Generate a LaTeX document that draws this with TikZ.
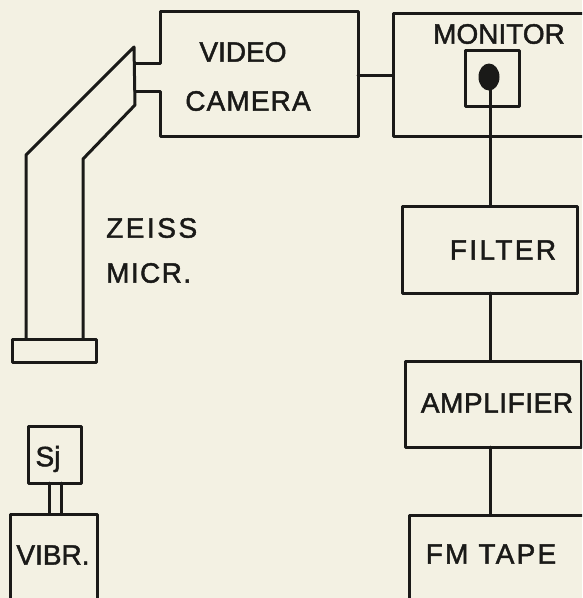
\documentclass[tikz,border=0pt]{standalone}
\usepackage{fontspec}
\usetikzlibrary{shapes.geometric}
\setmainfont[FakeBold=1.6]{Liberation Sans}
\definecolor{paper}{HTML}{F3F1E3}
\definecolor{ink}{HTML}{1A1A18}
\tikzset{
  ln/.style={draw=ink,line width=3pt,line join=round,line cap=round},
  blk/.style={ln,rectangle,inner sep=0pt,outer sep=0pt,anchor=north west},
  lbl/.style={text=ink,font=\fontsize{28}{28}\selectfont,inner sep=0pt},
  spaced/.style={font=\fontsize{28}{28}\selectfont\addfontfeatures{LetterSpace=#1,FakeBold=1.6}},
}
\begin{document}
\begin{tikzpicture}[x=1pt,y=-1pt]
\path[fill=paper] (0,0) rectangle (582,598);
\useasboundingbox (0,0) rectangle (582,598);
\begin{scope}
\clip (0,0) rectangle (582,598);
% boxes
\node[blk,minimum width=84pt,minimum height=23pt] (base) at (12,339) {};
\node[blk,minimum width=53pt,minimum height=57pt] (sj) at (28,426) {};
\node[blk,minimum width=87pt,minimum height=100pt] (vibr) at (10,514) {};
\node[blk,minimum width=200pt,minimum height=123pt] (monitor) at (393,13) {};
\node[blk,minimum width=54pt,minimum height=56pt] (screen) at (465,50) {};
\node[ellipse,fill=ink,minimum width=21pt,minimum height=27pt,inner sep=0pt] (spot) at (489,77) {};
\node[blk,minimum width=175pt,minimum height=87pt] (filter) at (402,206) {};
\node[blk,minimum width=176pt,minimum height=86pt] (amp) at (405,361) {};
\node[blk,minimum width=180pt,minimum height=100pt] (tape) at (409,515) {};
% camera: its left side is open for the two stubs
\coordinate (camTL) at (160,11);
\coordinate (camTR) at (358,11);
\coordinate (camBR) at (358,136);
\coordinate (camBL) at (160,136);
\coordinate (stubA) at (135,63);
\coordinate (stubB) at (135,91);
\draw[ln] (stubA) -- (160,63) -- (camTL) -- (camTR) -- (camBR) -- (camBL) -- (160,91) -- (stubB);
% microscope
\coordinate (apex) at (134,47);
\coordinate (elbowL) at (26,155);
\coordinate (elbowR) at (83,159);
\coordinate (neck) at (135,105);
\draw[ln] (elbowL |- base.north) -- (elbowL) -- (apex) -- (neck) -- (elbowR) -- (elbowR |- base.north);
% connectors
\coordinate (camR) at (358,75);
\coordinate (busx) at (490,0);
\coordinate (sjA) at (49,0);
\coordinate (sjB) at (61,0);
\draw[ln] (camR) -- (camR -| monitor.west);
\draw[ln] (busx |- spot.center) -- (busx |- filter.north);
\draw[ln] (busx |- filter.south) -- (busx |- amp.north);
\draw[ln] (busx |- amp.south) -- (busx |- tape.north);
\draw[ln] (sjA |- sj.south) -- (sjA |- vibr.north);
\draw[ln] (sjB |- sj.south) -- (sjB |- vibr.north);
% labels
\node[lbl] (t1) at (243,52) {VIDEO};
\node[lbl,spaced=4] (t2) at (248,101) {CAMERA};
\node[lbl] (t3) at (499,34) {MONITOR};
\node[lbl,spaced=8.5] (t4) at (503,250) {FILTER};
\node[lbl,spaced=2] (t5) at (497,403) {AMPLIFIER};
\node[lbl,spaced=8] (t6) at (491,554) {FM TAPE};
\node[lbl,spaced=9,anchor=west] (t7) at (106,228) {ZEISS};
\node[lbl,spaced=5,anchor=west] (t8) at (106,273) {MICR.};
\node[lbl] (t9) at (48,459) {Sj};
\node[lbl] (t10) at (53,555) {VIBR.};
\end{scope}
\end{tikzpicture}
\end{document}
